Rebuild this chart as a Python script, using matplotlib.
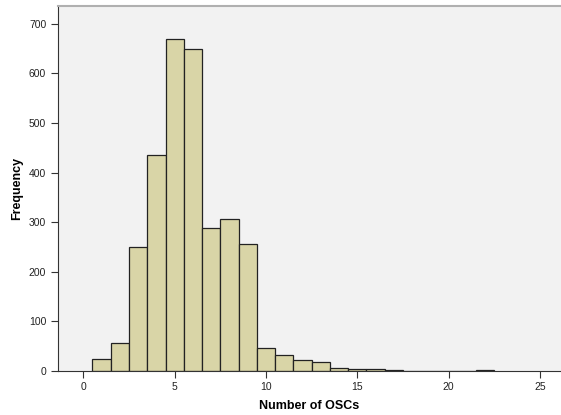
import matplotlib
matplotlib.use("Agg")
import matplotlib.pyplot as plt

# bin centres and counts
osc_counts = [1, 2, 3, 4, 5, 6, 7, 8, 9, 10, 11, 12, 13, 14, 15, 16, 17, 18, 19, 20, 21, 22]
frequency = [25, 56, 251, 435, 670, 650, 289, 307, 256, 47, 32, 23, 19, 7, 4, 4, 2, 1, 1, 0, 1, 3]
x_ticks = [0, 5, 10, 15, 20, 25]
y_ticks = [0, 100, 200, 300, 400, 500, 600, 700]

plt.rcParams["font.family"] = ["Liberation Sans", "DejaVu Sans"]

fig = plt.figure(figsize=(5.61, 4.15), dpi=100)
ax = fig.add_axes([58 / 561, 44 / 415, 1 - 58 / 561, (371 - 6) / 415])
ax.set_facecolor("#f2f2f2")

ax.bar(osc_counts, frequency, width=1.0, color="#d9d5a7", edgecolor="#222222", linewidth=0.9)

ax.set_xlim(-1.385, 26.15)
ax.set_ylim(0, 736)
ax.set_xticks(x_ticks)
ax.set_yticks(y_ticks)
ax.tick_params(direction="out", length=5, width=0.8, colors="#333333", labelsize=7.5, labelcolor="#222222")
ax.tick_params(axis="x", pad=3)

ax.spines["right"].set_visible(False)
ax.spines["top"].set_color("#b0b0b0")
ax.spines["top"].set_linewidth(1.5)
ax.spines["left"].set_color("#333333")
ax.spines["bottom"].set_color("#333333")

ax.set_xlabel("Number of OSCs", fontsize=9, fontweight="bold", labelpad=6)
ax.set_ylabel("Frequency", fontsize=9, fontweight="bold", labelpad=4)

fig.savefig("out.png", dpi=100)
